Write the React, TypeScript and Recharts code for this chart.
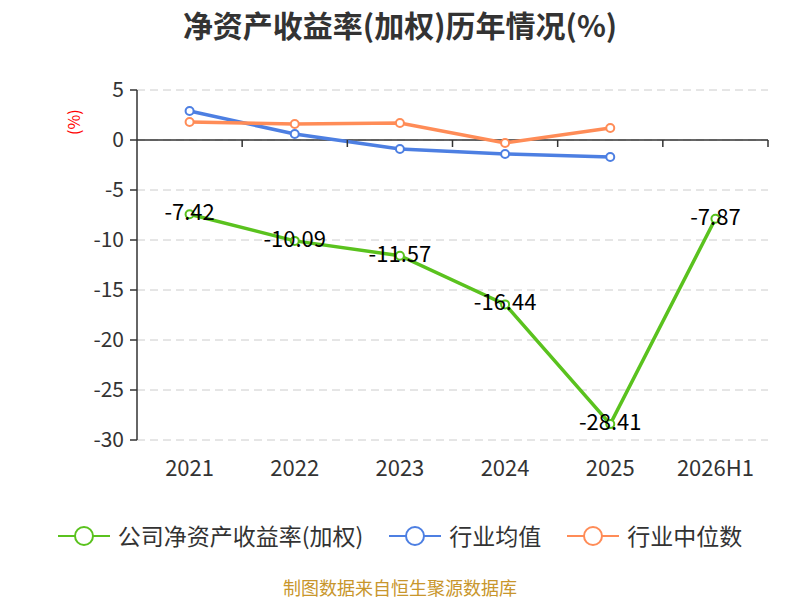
import { LineChart, Line, XAxis, YAxis, CartesianGrid, ReferenceLine, LabelList } from "recharts";

const years = ["2021", "2022", "2023", "2024", "2025", "2026H1"];
const companyRoe = [-7.42, -10.09, -11.57, -16.44, -28.41, -7.87];
const industryAvg = [2.9, 0.6, -0.9, -1.4, -1.7, null];
const industryMedian = [1.8, 1.6, 1.7, -0.3, 1.2, null];
const yTicks = [5, 0, -5, -10, -15, -20, -25, -30];

const data = years.map((year, i) => ({
  year,
  company: companyRoe[i],
  avg: industryAvg[i],
  median: industryMedian[i],
}));

const W = 800;
const H = 600;
const M = { top: 90, right: 32, left: 0, bottom: 0 };
const Y_AXIS_W = 137;
const X_AXIS_H = 160;
const Y_MAX = 5;
const Y_MIN = -30;
const plotH = H - M.top - M.bottom - X_AXIS_H;
const plotW = W - M.left - M.right - Y_AXIS_W;
const zeroY = M.top + ((Y_MAX - 0) / (Y_MAX - Y_MIN)) * plotH;
const bandW = plotW / years.length;

const FONT = "'Noto Sans CJK SC', 'Noto Sans', sans-serif";
const GREEN = "#5ac21e";
const BLUE = "#4d7fe2";
const ORANGE = "#ff8c57";

const series = [
  { key: "company", name: "公司净资产收益率(加权)", color: GREEN },
  { key: "avg", name: "行业均值", color: BLUE },
  { key: "median", name: "行业中位数", color: ORANGE },
];

function YearTick(props: any) {
  const { x, y, payload } = props;
  return (
    <g>
      <line x1={x + bandW / 2} x2={x + bandW / 2} y1={zeroY} y2={zeroY + 7} stroke="#333" strokeWidth={1.5} />
      <text x={x} y={y + 28} textAnchor="middle" fontSize={22} fill="#333" fontFamily={FONT}>
        {payload.value}
      </text>
    </g>
  );
}

function LegendIcon({ color }: { color: string }) {
  return (
    <svg width={52} height={22} style={{ marginRight: 8 }}>
      <line x1={0} x2={52} y1={11} y2={11} stroke={color} strokeWidth={2} />
      <circle cx={26} cy={11} r={9} fill="#fff" stroke={color} strokeWidth={2} />
    </svg>
  );
}

export default function App() {
  return (
    <div style={{ position: "absolute", left: 0, top: 0, width: W, height: H, background: "#fff", fontFamily: FONT }}>
      <div
        style={{
          position: "absolute",
          top: 2,
          width: W,
          textAlign: "center",
          fontSize: 30,
          fontWeight: 700,
          color: "#333",
        }}
      >
        净资产收益率(加权)历年情况(%)
      </div>
      <LineChart width={W} height={H} data={data} margin={M}>
        <CartesianGrid vertical={false} stroke="#ccc" strokeDasharray="8 5" />
        <XAxis
          dataKey="year"
          height={X_AXIS_H}
          axisLine={false}
          tickLine={false}
          tick={<YearTick />}
          interval={0}
          padding={{ left: bandW / 2, right: bandW / 2 }}
        />
        <YAxis
          width={Y_AXIS_W}
          domain={[Y_MIN, Y_MAX]}
          ticks={yTicks}
          interval={0}
          axisLine={{ stroke: "#333", strokeWidth: 1.5 }}
          tickLine={{ stroke: "#333", strokeWidth: 1.5 }}
          tickSize={7}
          tickMargin={6}
          tick={{ fontSize: 21, fill: "#333", fontFamily: FONT }}
          label={{
            value: "(%)",
            angle: -90,
            position: "insideTopLeft",
            dx: 64,
            dy: 40,
            fill: "#f00",
            fontSize: 16,
            fontFamily: FONT,
          }}
        />
        <ReferenceLine y={0} stroke="#333" strokeWidth={1.5} />
        <Line
          dataKey="company"
          stroke={GREEN}
          strokeWidth={3.5}
          dot={{ r: 4, fill: "#fff", stroke: GREEN, strokeWidth: 2 }}
          isAnimationActive={false}
        >
          <LabelList dataKey="company" position="center" dy={-2} fontSize={22} fill="#000" fontFamily={FONT} />
        </Line>
        <Line
          dataKey="avg"
          stroke={BLUE}
          strokeWidth={3.5}
          dot={{ r: 4, fill: "#fff", stroke: BLUE, strokeWidth: 2 }}
          isAnimationActive={false}
        />
        <Line
          dataKey="median"
          stroke={ORANGE}
          strokeWidth={3.5}
          dot={{ r: 4, fill: "#fff", stroke: ORANGE, strokeWidth: 2 }}
          isAnimationActive={false}
        />
      </LineChart>
      <div
        style={{
          position: "absolute",
          top: 522,
          width: W,
          display: "flex",
          justifyContent: "center",
          alignItems: "center",
          fontSize: 23,
          lineHeight: 1.2,
          color: "#333",
        }}
      >
        {series.map((s) => (
          <div key={s.key} style={{ display: "flex", alignItems: "center", margin: "0 13px" }}>
            <LegendIcon color={s.color} />
            <span>{s.name}</span>
          </div>
        ))}
      </div>
      <div
        style={{
          position: "absolute",
          top: 578,
          width: W,
          textAlign: "center",
          fontSize: 18,
          lineHeight: 1.1,
          color: "#c8962c",
        }}
      >
        制图数据来自恒生聚源数据库
      </div>
    </div>
  );
}
